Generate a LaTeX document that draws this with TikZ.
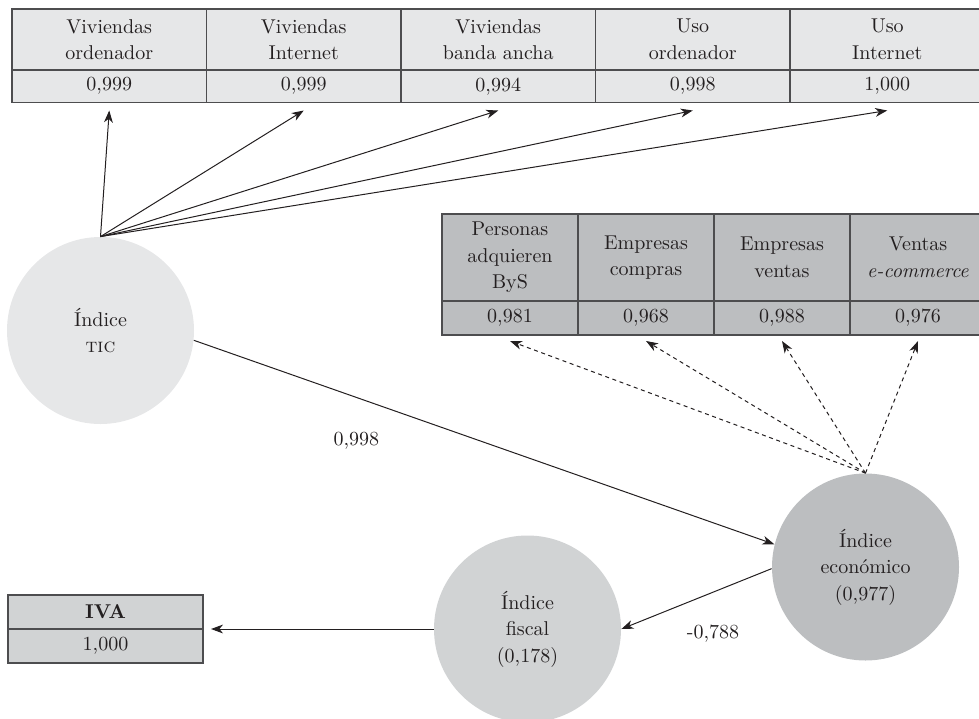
\documentclass[tikz,border=0pt]{standalone}
\usepackage{fontspec}
\usetikzlibrary{positioning,arrows.meta}

\definecolor{ink}{HTML}{231F20}
\definecolor{rulegray}{HTML}{4D4D4F}
\definecolor{palegray}{HTML}{E6E7E8}
\definecolor{midgray}{HTML}{D1D3D4}
\definecolor{darkgray}{HTML}{BCBEC0}

\begin{document}
\begin{tikzpicture}[x=0.5pt,y=-0.5pt,>={Stealth[length=6pt,width=4.4pt,inset=1.8pt]},
    every node/.style={text=ink,font=\fontsize{10}{13.3}\selectfont},
    cell/.style={draw=rulegray,line width=0.6pt,inner sep=0pt,outer sep=0pt,align=center},
    tic head/.style={cell,fill=palegray,minimum width=97.25pt,minimum height=30.5pt},
    tic val/.style={cell,fill=palegray,minimum width=97.25pt,minimum height=16.25pt},
    eco head/.style={cell,fill=darkgray,minimum width=68pt,minimum height=43.5pt},
    eco val/.style={cell,fill=darkgray,minimum width=68pt,minimum height=17pt},
    iva cell/.style={cell,fill=midgray,minimum width=97.5pt,minimum height=17pt},
    index node/.style={circle,draw=none,inner sep=0pt,minimum size=93.5pt,align=center},
    link/.style={->,color=ink,line width=0.5pt},
    dash link/.style={dash pattern=on 2pt off 1.8pt}]
    \useasboundingbox (0,0) rectangle (979,718);
    \clip (0,0) rectangle (979,718);

    % indicadores TIC
    \node[tic head,anchor=north west] (h1) at (12,9) {Viviendas\\ordenador};
    \node[tic head,right=0pt of h1] (h2) {Viviendas\\Internet};
    \node[tic head,right=0pt of h2] (h3) {Viviendas\\banda ancha};
    \node[tic head,right=0pt of h3] (h4) {Uso\\ordenador};
    \node[tic head,right=0pt of h4] (h5) {Uso\\Internet};
    \node[tic val,below=0pt of h1] (v1) {0,999};
    \node[tic val,below=0pt of h2] (v2) {0,999};
    \node[tic val,below=0pt of h3] (v3) {0,994};
    \node[tic val,below=0pt of h4] (v4) {0,998};
    \node[tic val,below=0pt of h5] (v5) {1,000};

    % indicadores economicos
    \node[eco head,anchor=north west] (e1) at (442,214) {Personas\\adquieren\\ByS};
    \node[eco head,right=0pt of e1] (e2) {Empresas\\compras};
    \node[eco head,right=0pt of e2] (e3) {Empresas\\ventas};
    \node[eco head,right=0pt of e3] (e4) {Ventas\\\textit{e-commerce}};
    \node[eco val,below=0pt of e1] (f1) {0,981};
    \node[eco val,below=0pt of e2] (f2) {0,968};
    \node[eco val,below=0pt of e3] (f3) {0,988};
    \node[eco val,below=0pt of e4] (f4) {0,976};

    % indicador fiscal
    \node[iva cell,anchor=north west] (iva) at (8,595) {\textbf{IVA}};
    \node[iva cell,below=0pt of iva] (ivaval) {1,000};

    % indices
    \node[index node,fill=palegray] (tic) at (100.5,330.5) {Índice\\\textsc{tic}};
    \node[index node,fill=darkgray] (eco) at (865.5,567) {Índice\\económico\\(0,977)};
    \node[index node,fill=midgray] (fiscal) at (527.5,629) {Índice\\fiscal\\(0,178)};

    \coordinate[below=4pt of v1] (a1);
    \coordinate[below=4pt of v2] (a2);
    \coordinate[below=4pt of v3] (a3);
    \coordinate[below=4pt of v4] (a4);
    \coordinate[below=4pt of v5] (a5);
    \coordinate[below=3pt of f1] (b1);
    \coordinate[below=3pt of f2] (b2);
    \coordinate[below=3pt of f3] (b3);
    \coordinate[below=3pt of f4] (b4);
    \coordinate[right=4pt of ivaval.north east] (c1);

    \path[link]
    (tic.north) edge (a1)
    (tic.north) edge (a2)
    (tic.north) edge (a3)
    (tic.north) edge (a4)
    (tic.north) edge (a5)

    (eco.north) edge[dash link] (b1)
    (eco.north) edge[dash link] (b2)
    (eco.north) edge[dash link] (b3)
    (eco.north) edge[dash link] (b4)

    (tic.-6) edge node[pos=0.28,below=14pt] (r1) {0,998} (eco.166)
    (eco.181) edge node[pos=0.39,below=13pt] (r2) {-0,788} (fiscal.east)
    (fiscal.west) edge (c1)
    ;
\end{tikzpicture}
\end{document}
